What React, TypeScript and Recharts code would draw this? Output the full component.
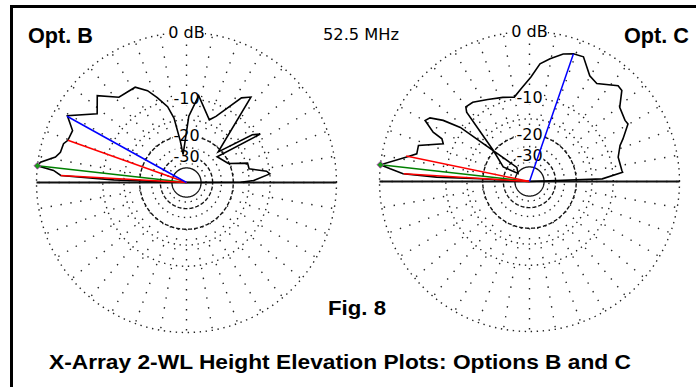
import { ScatterChart, Scatter, XAxis, YAxis } from 'recharts'

// Opt. B elevation pattern: angle from the right-hand horizon (deg) and gain (dB)
const optBAngle = [
  0, 0.3, 1.7, 5.9, 8, 12.4, 17.6, 24.5, 40, 33.3, 36, 44, 53, 57, 66, 70, 82, 88, 97, 98.5,
  101, 104, 109, 113, 118.3, 128.4, 135.8, 142.4, 150.7, 155.5, 160.4, 162.5, 166.5, 169,
  172.1, 173.6, 174.8, 176.8, 177.3, 177.9, 180,
]
const optBGain = [
  -99, -17.5, -13.8, -10, -10.6, -14.6, -14.6, -20.3, -22.7, -9.1, -10.5, -21, -5.8, -6.8, -12.5,
  -13.9, -9.2, -14, -28.8, -21.8, -14.2, -11.2, -8.8, -7, -5.6, -5.5, -3.2, -4.9, -1.6, -3.1, -3,
  -2.6, -2.5, -2, -0.3, 0, -2, -3, -7, -12.4, -99,
]

// Opt. C elevation pattern
const optCAngle = [
  0, 2.1, 5.7, 6.8, 15.3, 21.7, 24.5, 30.3, 32.6, 39.4, 44.6, 47.2, 55.5, 60.3, 66.6, 71, 75.2,
  80.5, 84.9, 89.2, 95.2, 100.2, 107.6, 117, 125.6, 130.5, 132.2, 139.4, 151, 145, 131.8, 142,
  144.7, 147.4, 149.7, 152.9, 154, 156.4, 162, 166.2, 168.3, 173.6, 174.8, 176.5, 177.3, 176.9, 180,
]
const optCGain = [
  -99, -12.4, -8.1, -8.2, -8.4, -7.4, -6.5, -4.7, -4.8, -4.3, -2.5, -2.4, -4, -3.6, -1.7, -1.8, -2.2,
  -3.2, -4.1, -6.2, -8.2, -9.6, -9.1, -8.4, -7.4, -7.3, -8.1, -19.7, -27.6, -40.7, -35.5, -9.2,
  -6, -4.1, -3.7, -5.6, -7.4, -8, -4.3, -4.4, -3.3, 0, -1.2, -2.9, -8.2, -19, -99,
]

// max gain, -3 dB points and cursor direction for each plot
const optBMax = 173.6
const optBHalf = [160.4, 176.8]
const optBCursor = [151, -1.6]
const optCMax = 173.6
const optCHalf = [168.3, 176.5]
const optCCursor = [71, -1.8]

// grid rings (dB)
const dottedRings = [0, -10, -15, -25, -35]
const dashedRings = [-20, -30]
const innerRing = -40
const ringLabelLevels = [0, -10, -20, -30]
const ringLabelText = ['0 dB', '-10', '-20', '-30']
const spokeStep = 10

const PX = 150 // pixels per unit radius
const SPAN = 1.15
const SIZE = 2 * SPAN * PX

// ARRL log scale: 0.89 per 2 dB
const arrl = (db: number) => (db <= -90 ? 0 : Math.pow(0.89, -db / 2))
const polar = (deg: number, r: number) => {
  const a = (deg * Math.PI) / 180
  return { x: r * Math.cos(a), y: r * Math.sin(a) }
}
const circle = (r: number) => Array.from({ length: 181 }, (_, i) => polar(i * 2, r))
const ray = (deg: number, db: number) => [{ x: 0, y: 0 }, polar(deg, arrl(db))]

const noDot = () => <g />

function RingLabel(props: any) {
  const { cx, cy, payload } = props
  const w = payload.text.length * 8.6 + 2
  return (
    <g>
      <rect x={cx - w / 2} y={cy - 7} width={w} height={14} fill="#fff" />
      <text x={cx} y={cy + 5.5} textAnchor="middle" fontFamily="DejaVu Sans" fontSize={16} fill="#000">
        {payload.text}
      </text>
    </g>
  )
}

function PeakMark(props: any) {
  const { cx, cy } = props
  return (
    <path
      d={`M${cx - 3.5},${cy} L${cx},${cy - 3.5} L${cx + 3.5},${cy} L${cx},${cy + 3.5} Z`}
      fill="#1a9a1a"
      stroke="#c040c0"
      strokeWidth={0.8}
    />
  )
}

interface PlotProps {
  angles: number[]
  gains: number[]
  maxAngle: number
  half: number[]
  cursor: number[]
  cx: number
  cy: number
}

function PolarPlot({ angles, gains, maxAngle, half, cursor, cx, cy }: PlotProps) {
  const pattern = angles.map((a, i) => polar(a, arrl(gains[i])))
  const spokes = Array.from({ length: 360 / spokeStep }, (_, i) => [
    polar(i * spokeStep, 148 / 150),
    polar(i * spokeStep, arrl(-20)),
  ])
  const labels = ringLabelLevels.map((lv, i) => ({ x: 0, y: arrl(lv), text: ringLabelText[i] }))

  return (
    <div style={{ position: 'absolute', left: cx - SIZE / 2, top: cy - SIZE / 2 }}>
      <ScatterChart width={SIZE} height={SIZE} margin={{ top: 0, right: 0, bottom: 0, left: 0 }}>
        <XAxis type="number" dataKey="x" domain={[-SPAN, SPAN]} hide />
        <YAxis type="number" dataKey="y" domain={[-SPAN, SPAN]} hide />

        {dottedRings.map((lv) => (
          <Scatter key={`d${lv}`} data={circle(arrl(lv))} shape={noDot} isAnimationActive={false}
            line={{ stroke: '#222', strokeWidth: 1.4, strokeDasharray: '1.4 4.6' }} />
        ))}
        {dashedRings.map((lv) => (
          <Scatter key={`s${lv}`} data={circle(arrl(lv))} shape={noDot} isAnimationActive={false}
            line={{ stroke: '#111', strokeWidth: 1.4, strokeDasharray: '4 2' }} />
        ))}
        <Scatter data={circle(arrl(innerRing))} shape={noDot} isAnimationActive={false}
          line={{ stroke: '#111', strokeWidth: 1.3 }} />
        {spokes.map((s, i) => (
          <Scatter key={`r${i}`} data={s} shape={noDot} isAnimationActive={false}
            line={{ stroke: '#222', strokeWidth: 1.4, strokeDasharray: '1.4 8.6' }} />
        ))}

        <Scatter data={labels} shape={RingLabel} isAnimationActive={false} />

        <Scatter data={[{ x: -1, y: 0 }, { x: 1, y: 0 }]} shape={noDot} isAnimationActive={false}
          line={{ stroke: '#111', strokeWidth: 2 }} />

        <Scatter data={pattern} shape={noDot} isAnimationActive={false}
          line={{ stroke: '#000', strokeWidth: 1.6 }} />

        <Scatter data={ray(maxAngle, 0)} shape={noDot} isAnimationActive={false}
          line={{ stroke: '#008000', strokeWidth: 1.5 }} />
        {half.map((a) => (
          <Scatter key={`h${a}`} data={ray(a, -3)} shape={noDot} isAnimationActive={false}
            line={{ stroke: '#ff0000', strokeWidth: 1.5 }} />
        ))}
        <Scatter data={ray(cursor[0], cursor[1])} shape={noDot} isAnimationActive={false}
          line={{ stroke: '#0000ff', strokeWidth: 1.5 }} />
        <Scatter data={[polar(maxAngle, 1)]} shape={PeakMark} isAnimationActive={false} />
      </ScatterChart>
    </div>
  )
}

export default function App() {
  return (
    <div style={{ position: 'absolute', left: 0, top: 0, width: 696, height: 387, background: '#fff', overflow: 'hidden' }}>
      <PolarPlot angles={optBAngle} gains={optBGain} maxAngle={optBMax} half={optBHalf} cursor={optBCursor}
        cx={186} cy={182} />
      <PolarPlot angles={optCAngle} gains={optCGain} maxAngle={optCMax} half={optCHalf} cursor={optCCursor}
        cx={529.5} cy={181} />
      <svg width={696} height={387} style={{ position: 'absolute', left: 0, top: 0 }}>
        <rect x={10} y={5} width={686} height={3} fill="#000" />
        <rect x={10} y={5} width={3} height={382} fill="#000" />
        <g fontFamily="Liberation Sans, Arial, sans-serif" fontWeight="bold" fill="#000">
          <text x={28} y={42.5} fontSize={22} textLength={65} lengthAdjust="spacingAndGlyphs">Opt. B</text>
          <text x={624} y={42.5} fontSize={22} textLength={65} lengthAdjust="spacingAndGlyphs">Opt. C</text>
          <text x={328} y={315} fontSize={21} textLength={58} lengthAdjust="spacingAndGlyphs">Fig. 8</text>
          <text x={49} y={369} fontSize={21} textLength={582} lengthAdjust="spacingAndGlyphs">
            X-Array 2-WL Height Elevation Plots: Options B and C
          </text>
        </g>
        <text x={323} y={39.5} fontFamily="DejaVu Sans" fontSize={15} textLength={76} lengthAdjust="spacingAndGlyphs">
          52.5 MHz
        </text>
      </svg>
    </div>
  )
}
